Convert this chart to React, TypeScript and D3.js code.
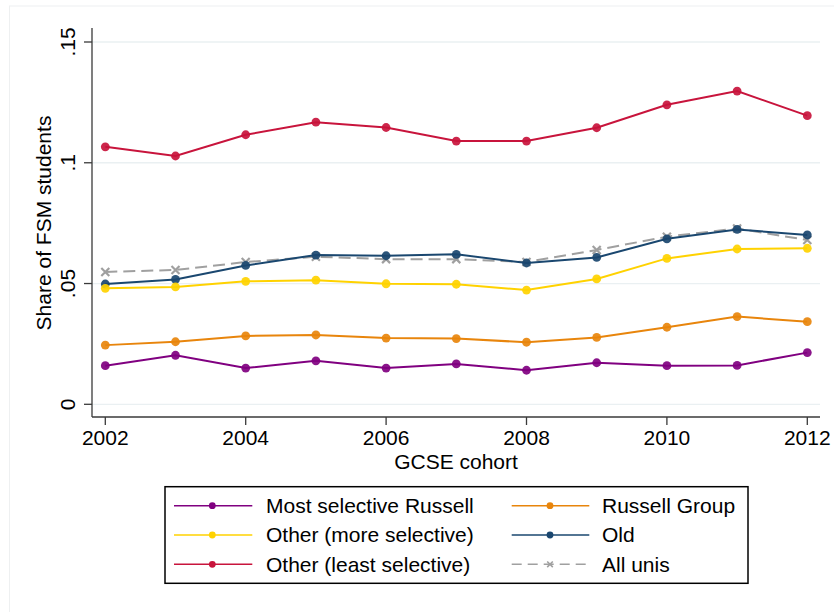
import React from "react";
import * as d3 from "d3";

const years = [2002, 2003, 2004, 2005, 2006, 2007, 2008, 2009, 2010, 2011, 2012];
const mostSelectiveRussell = [0.016, 0.0203, 0.015, 0.018, 0.015, 0.0167, 0.0141, 0.0172, 0.016, 0.0161, 0.0214];
const russellGroup = [0.0245, 0.0259, 0.0283, 0.0287, 0.0274, 0.0272, 0.0257, 0.0277, 0.0319, 0.0363, 0.0342];
const otherMoreSelective = [0.048, 0.0486, 0.0509, 0.0514, 0.0499, 0.0497, 0.0473, 0.0519, 0.0604, 0.0643, 0.0646];
const oldUnis = [0.0498, 0.0517, 0.0575, 0.0618, 0.0615, 0.0621, 0.0585, 0.0608, 0.0685, 0.0724, 0.0701];
const otherLeastSelective = [0.1066, 0.1028, 0.1116, 0.1168, 0.1146, 0.109, 0.109, 0.1145, 0.124, 0.1297, 0.1195];
const allUnis = [0.0548, 0.0556, 0.0589, 0.0611, 0.0601, 0.0601, 0.0589, 0.0639, 0.0694, 0.0728, 0.068];

const xTicks = [2002, 2004, 2006, 2008, 2010, 2012];
const yTicks = [0, 0.05, 0.1, 0.15];
const yTickLabels = ["0", ".05", ".1", ".15"];

type Series = { name: string; values: number[]; color: string; dashed?: boolean; cross?: boolean };

const series: Series[] = [
  { name: "Most selective Russell", values: mostSelectiveRussell, color: "#800080" },
  { name: "Russell Group", values: russellGroup, color: "#e8850c" },
  { name: "Other (more selective)", values: otherMoreSelective, color: "#ffd200" },
  { name: "Old", values: oldUnis, color: "#1a476f" },
  { name: "Other (least selective)", values: otherLeastSelective, color: "#c8143c" },
  { name: "All unis", values: allUnis, color: "#a0a0a0", dashed: true, cross: true },
];

const drawOrder = [4, 5, 3, 2, 1, 0];

const FONT = "'Liberation Sans', Arial, sans-serif";

export default function App() {
  const x = d3.scaleLinear().domain([2002, 2012]).range([105.3, 807.3]);
  const y = d3.scaleLinear().domain([0, 0.15]).range([404.3, 42]);
  const line = d3
    .line<number>()
    .x((_, i) => x(years[i]))
    .y((d) => y(d));

  const crossPath = (cx: number, cy: number, r: number) =>
    `M${cx - r},${cy - r}L${cx + r},${cy + r}M${cx - r},${cy + r}L${cx + r},${cy - r}`;

  const legendRows = [
    [0, 1],
    [2, 3],
    [4, 5],
  ];
  const rowY = [505.7, 535, 564.3];
  const cols = [
    { k0: 174, k1: 252.3, m: 212.3, t: 266 },
    { k0: 511.7, k1: 589.3, m: 550, t: 602 },
  ];

  return (
    <svg
      width={834}
      height={612}
      style={{ position: "absolute", left: 0, top: 0, background: "#fff" }}
      fontFamily={FONT}
    >
      <rect x={0} y={0} width={834} height={612} fill="#fff" />
      <rect x={9.5} y={6} width={840} height={620} fill="none" stroke="#eef0f1" strokeWidth={1} />

      {/* gridlines */}
      {yTicks.map((t) => (
        <line key={"g" + t} x1={92} x2={820} y1={y(t)} y2={y(t)} stroke="#eaf0f2" strokeWidth={1.3} />
      ))}

      {/* axes */}
      <line x1={92} x2={92} y1={28} y2={417} stroke="#3a3a3a" strokeWidth={1.3} />
      <line x1={92} x2={820} y1={417} y2={417} stroke="#3a3a3a" strokeWidth={1.3} />

      {yTicks.map((t, i) => (
        <g key={"yt" + t}>
          <line x1={84} x2={92} y1={y(t)} y2={y(t)} stroke="#3a3a3a" strokeWidth={1.3} />
          <text
            transform={`translate(74.5,${y(t)}) rotate(-90)`}
            textAnchor="middle"
            fontSize={21}
            fill="#000"
          >
            {yTickLabels[i]}
          </text>
        </g>
      ))}

      {xTicks.map((t) => (
        <g key={"xt" + t}>
          <line x1={x(t)} x2={x(t)} y1={417} y2={425} stroke="#3a3a3a" strokeWidth={1.3} />
          <text x={x(t)} y={445} textAnchor="middle" fontSize={21} fill="#000">
            {t}
          </text>
        </g>
      ))}

      <text x={456} y={468.5} textAnchor="middle" fontSize={21} fill="#000">
        GCSE cohort
      </text>
      <text transform={`translate(51,223) rotate(-90)`} textAnchor="middle" fontSize={21} fill="#000">
        Share of FSM students
      </text>

      {/* series */}
      {drawOrder.map((si) => {
        const s = series[si];
        return (
          <g key={s.name}>
            <path
              d={line(s.values) || ""}
              fill="none"
              stroke={s.color}
              strokeWidth={2}
              strokeDasharray={s.dashed ? "12,6" : undefined}
            />
            {s.values.map((v, i) =>
              s.cross ? (
                <path
                  key={i}
                  d={crossPath(x(years[i]), y(v), 4)}
                  stroke={s.color}
                  strokeWidth={2.2}
                  fill="none"
                />
              ) : (
                <circle key={i} cx={x(years[i])} cy={y(v)} r={4.4} fill={s.color} fillOpacity={0.92} />
              )
            )}
          </g>
        );
      })}

      {/* legend */}
      <rect x={165} y={486.7} width={583} height={96.6} fill="#fff" stroke="#000" strokeWidth={1.5} />
      {legendRows.map((row, ri) =>
        row.map((si, ci) => {
          const s = series[si];
          const c = cols[ci];
          const yy = rowY[ri];
          return (
            <g key={"l" + si}>
              <line
                x1={c.k0}
                x2={c.k1}
                y1={yy}
                y2={yy}
                stroke={s.color}
                strokeWidth={1.6}
                strokeDasharray={s.dashed ? "10,6" : undefined}
              />
              {s.cross ? (
                <path d={crossPath(c.m, yy, 2.8)} stroke={s.color} strokeWidth={1.6} fill="none" />
              ) : (
                <circle cx={c.m} cy={yy} r={3.4} fill={s.color} />
              )}
              <text x={c.t} y={yy + 7.3} fontSize={21} fill="#000">
                {s.name}
              </text>
            </g>
          );
        })
      )}
    </svg>
  );
}
